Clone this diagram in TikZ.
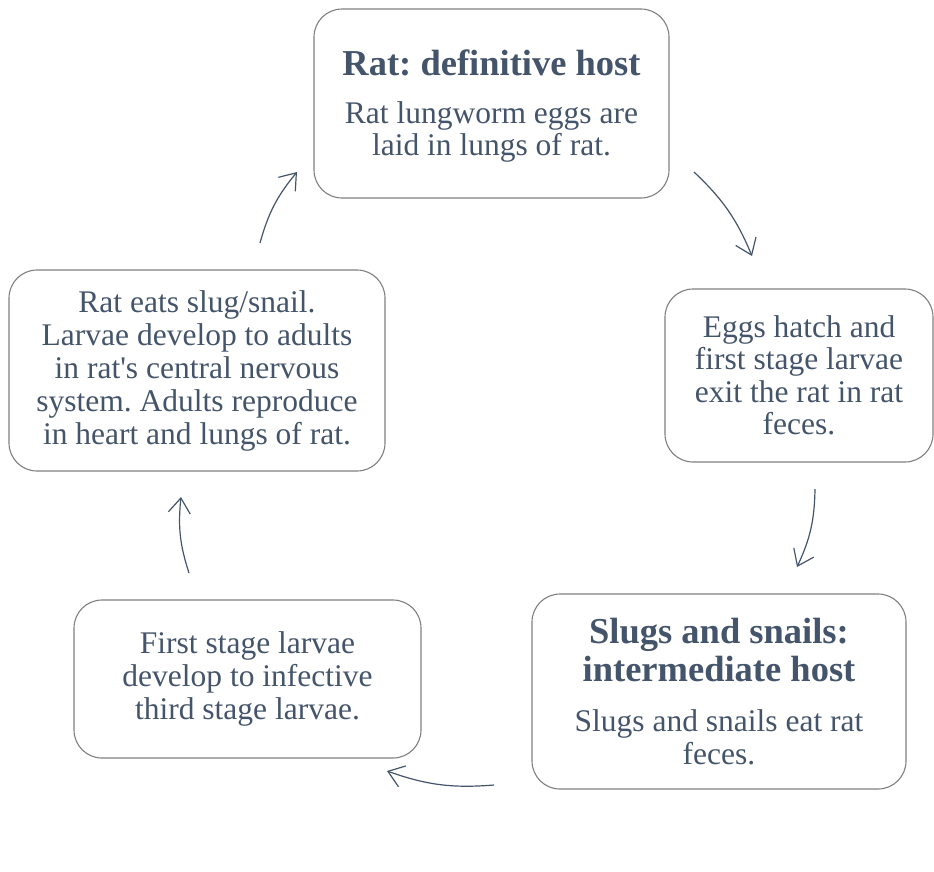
\documentclass[tikz,border=0pt]{standalone}
\usepackage{fontspec}
\setmainfont{Liberation Serif}
\usetikzlibrary{arrows.meta}
\definecolor{slate}{HTML}{44546A}
\definecolor{rim}{HTML}{7F7F7F}
\frenchspacing

\begin{document}
\begin{tikzpicture}[x=1pt,y=1pt,
        stage/.style={draw=rim, line width=1.1pt, rounded corners=28pt, text=slate,
            align=center, inner sep=0pt, font=\fontsize{31.5}{33}\selectfont},
        cyc/.style={draw=slate, line width=1.2pt, bend left=12,
            -{Straight Barb[length=15pt,width=22pt]}}]
        \useasboundingbox (0,0) rectangle (934,-871);

        \node[stage, minimum width=355pt, minimum height=189pt] (rat) at (491.5,-103.5)
            {\rule{0pt}{31pt}{\fontsize{36.5}{36}\selectfont\bfseries Rat: definitive host}\\[15pt]
             Rat lungworm eggs are\\[-1pt] laid in lungs of rat.};
        \node[stage, minimum width=268pt, minimum height=173pt] (hatch) at (799,-375.5)
            {Eggs hatch and\\[-0.5pt] first stage larvae\\[-0.5pt] exit the rat in rat\\[-0.5pt] feces.};
        \node[stage, minimum width=374pt, minimum height=195pt] (slug) at (719,-691.5)
            {{\fontsize{36.5}{36}\selectfont\bfseries Slugs and snails:}\\[3pt]
             {\fontsize{36.5}{36}\selectfont\bfseries intermediate host}\\[17pt]
             Slugs and snails eat rat\\ feces.};
        \node[stage, minimum width=347pt, minimum height=158pt] (third) at (247.5,-679)
            {First stage larvae\\ develop to infective\\ third stage larvae.};
        \node[stage, minimum width=376pt, minimum height=201pt] (eat) at (197,-370.5)
            {Rat eats slug/snail.\\ Larvae develop to adults\\ in rat\textquotesingle s central nervous\\
             system. Adults reproduce\\ in heart and lungs of rat.};

        % arrow ends
        \coordinate (a1) at (260,-243);  \coordinate (b1) at (297,-172);
        \coordinate (a2) at (694,-172);  \coordinate (b2) at (752,-256);
        \coordinate (a3) at (815,-489);  \coordinate (b3) at (797,-567);
        \coordinate (a4) at (494,-785);  \coordinate (b4) at (387,-771);
        \coordinate (a5) at (189,-573);  \coordinate (b5) at (181,-497);

        \draw[cyc] (a1) to (b1);
        \draw[cyc] (a2) to (b2);
        \draw[cyc] (a3) to (b3);
        \draw[cyc] (a4) to (b4);
        \draw[cyc] (a5) to (b5);
    \end{tikzpicture}
\end{document}
